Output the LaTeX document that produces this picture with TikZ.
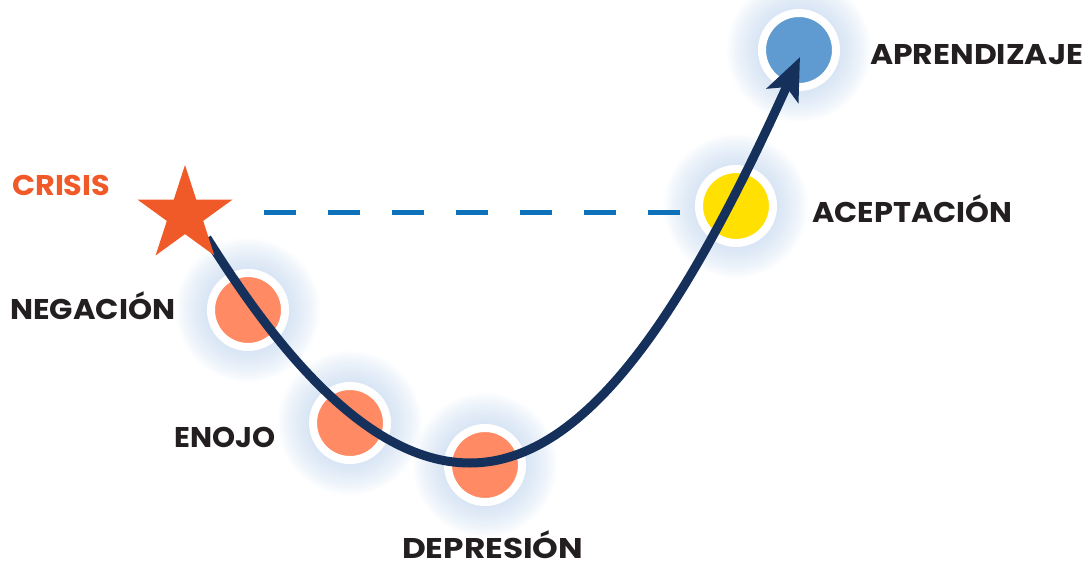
\documentclass[tikz,border=0pt]{standalone}
\usepackage{fontspec}
\usepackage{graphicx}
\setmainfont{Poppins}
\usetikzlibrary{arrows.meta,shapes.geometric}
\definecolor{navy}{HTML}{14305B}
\definecolor{crisisor}{HTML}{F05A28}
\definecolor{salmon}{HTML}{FF8A63}
\definecolor{sunyel}{HTML}{FFE000}
\definecolor{skyb}{HTML}{5F9BD0}
\definecolor{dashb}{HTML}{0E72BA}
\definecolor{txt}{HTML}{231F20}
\definecolor{glowc}{HTML}{BCD2EC}
\newcommand{\fitw}[2]{\resizebox{#1pt}{\height}{#2}}
\tikzset{
  stage/.style={circle, fill=#1, draw=white, line width=8pt, minimum size=74pt, inner sep=0pt},
  lab/.style={anchor=base west, inner sep=0pt, text=txt, font=\fontsize{28.5}{30}\selectfont\bfseries},
}
\begin{document}
\begin{tikzpicture}[x=1pt,y=-1pt]
\useasboundingbox (0,0) rectangle (1091,562);
% soft glows
\foreach \p in {(248,310),(350,423),(485,465),(736,206),(799,50)}
  \foreach \r in {72,70,...,42}
    \fill[glowc, opacity=0.05] \p circle (\r);
% stages
\node[stage=salmon] (neg) at (248,310) {};
\node[stage=salmon] (eno) at (350,423) {};
\node[stage=salmon] (dep) at (485,465) {};
\node[stage=sunyel] (ace) at (736,206) {};
\node[stage=skyb] (apr) at (799,50) {};
% dashed line
\coordinate (d0) at (264,212);
\coordinate (d1) at (680,212);
\draw[dashb, line width=5pt, dash pattern=on 32pt off 32pt] (d0) -- (d1);
% curve
\coordinate (c0) at (207,238);
\coordinate (cb) at (470,463);
\coordinate (ct) at (800,57);
\draw[navy, line width=9pt, -{Stealth[length=42pt,width=34pt,inset=9pt]}]
  (c0) .. controls (265,330) and (360,463) .. (cb)
       .. controls (590,463) and (690,300) .. (ct);
% star
\node[star, star points=5, star point ratio=2.618, fill=crisisor, minimum size=100pt, inner sep=0pt] (crisis) at (185,215) {};
% labels
\node[lab, text=crisisor] (lcri) at (12,195) {\fitw{98}{CRISIS}};
\node[lab] (lneg) at (10,319) {\fitw{165}{NEGACIÓN}};
\node[lab] (leno) at (174,447) {\fitw{101}{ENOJO}};
\node[lab] (ldep) at (402,558) {\fitw{181}{DEPRESIÓN}};
\node[lab] (lace) at (812,222) {\fitw{200}{ACEPTACIÓN}};
\node[lab] (lapr) at (870,64) {\fitw{213}{APRENDIZAJE}};
\end{tikzpicture}
\end{document}
